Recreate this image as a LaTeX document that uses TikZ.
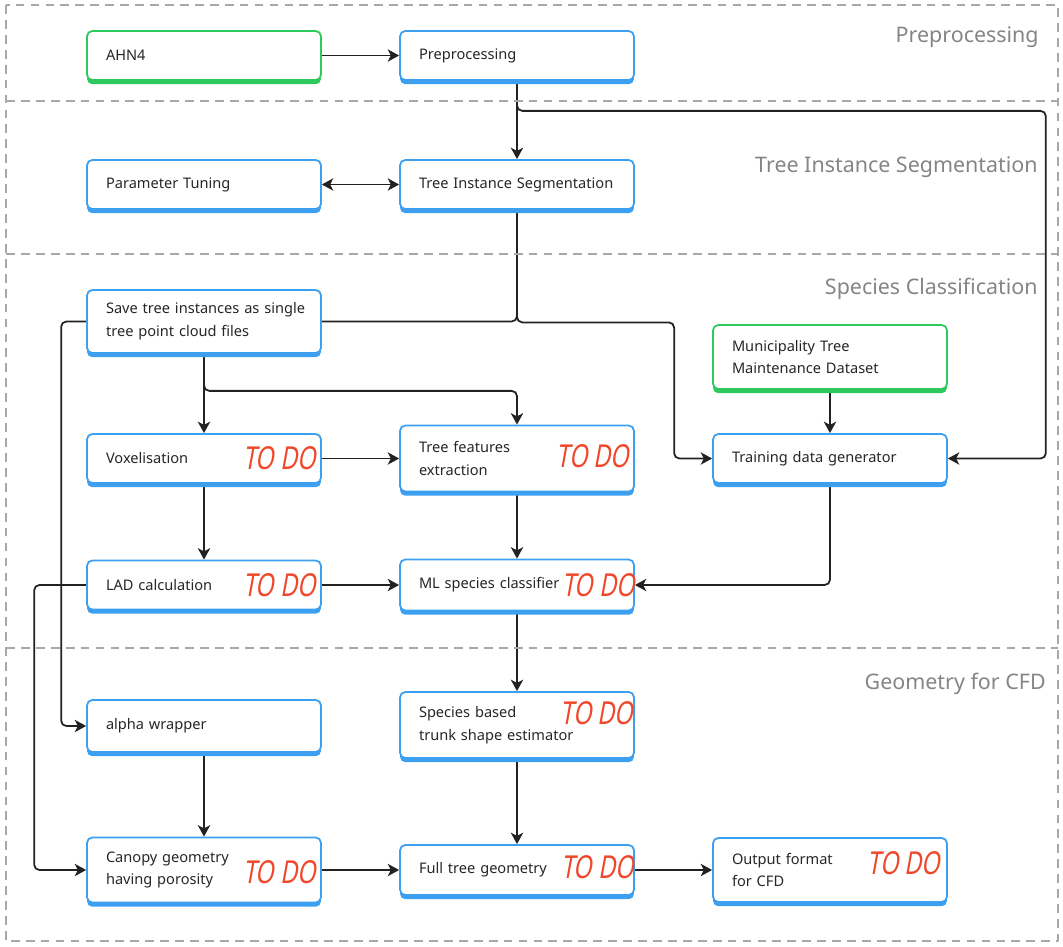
\documentclass[tikz,border=0pt]{standalone}
\usepackage{fontspec}
\setmainfont{Noto Sans}
\newfontfamily\todofont[FakeStretch=0.75,FakeSlant=0.18]{Noto Sans}
\usetikzlibrary{arrows.meta,positioning,shadows}
\pgfdeclarelayer{background}
\pgfsetlayers{background,main}
\definecolor{boxblue}{HTML}{3C9FF0}
\definecolor{boxgreen}{HTML}{2EC95C}
\definecolor{todored}{HTML}{F0472B}
\definecolor{lanegray}{HTML}{A8A8A8}
\definecolor{titlegray}{HTML}{858585}
\definecolor{linedark}{HTML}{222222}

\begin{document}
\begin{tikzpicture}[x=0.02cm, y=-0.02cm, line join=round,
  box/.style={draw=#1, line width=1pt, fill=white, rounded corners=3pt,
    drop shadow={shadow xshift=0pt, shadow yshift=-2.4pt, fill=#1, opacity=1},
    minimum width=4.68cm, text width=3.92cm, inner xsep=0.38cm, align=left,
    font=\fontsize{8.3}{13}\selectfont, text=black!85},
  box/.default=boxblue,
  conn/.style={draw=linedark, line width=1pt, rounded corners=3pt},
  arr/.style={conn, -{Stealth[length=6.5pt, width=7pt, inset=1.8pt]}},
  arrboth/.style={conn, {Stealth[length=6.5pt, width=7pt, inset=1.8pt]}-{Stealth[length=6.5pt, width=7pt, inset=1.8pt]}},
  todo/.style={font=\todofont\fontsize{18}{18}\selectfont, text=todored, inner sep=0pt, anchor=east},
  lane/.style={font=\fontsize{12.2}{14}\selectfont, text=titlegray, anchor=east, inner sep=0pt},
  sep/.style={draw=lanegray, line width=0.9pt, dash pattern=on 5pt off 3.5pt}]
\useasboundingbox (0,0) rectangle (1063,947);

\draw[sep] (6,5) rectangle (1058,941);
\draw[sep] (6,101) -- (1058,101);
\draw[sep] (6,254) -- (1058,254);
\draw[sep] (6,648) -- (1058,648);
\node[lane] (lpre) at (1039,37) {Preprocessing};
\node[lane] (lseg) at (1038,167) {Tree Instance Segmentation};
\node[lane] (lcls) at (1038,289) {Species Classification};
\node[lane] (lcfd) at (1046,684) {Geometry for CFD};

\node[box=boxgreen, minimum height=0.98cm] (ahn) at (204,55.5) {AHN4};
\node[box, minimum height=0.98cm] (prep) at (517,55.5) {Preprocessing};
\node[box, minimum height=0.98cm] (tune) at (204,184.5) {Parameter Tuning};
\node[box, minimum height=0.98cm] (seg) at (517,184.5) {Tree Instance Segmentation};
\node[box, minimum height=1.26cm] (save) at (204,321.5) {\mbox{Save tree instances as single}\\tree point cloud files};
\node[box=boxgreen, minimum height=1.28cm] (muni) at (830,357) {Municipality Tree\\Maintenance Dataset};
\node[box, minimum height=0.98cm] (voxel) at (204,458.5) {Voxelisation};
\node[box, minimum height=1.32cm] (feat) at (517,458.5) {Tree features\\extraction};
\node[box, minimum height=0.98cm] (train) at (830,458.5) {Training data generator};
\node[box, minimum height=0.98cm] (lad) at (204,585) {LAD calculation};
\node[box, minimum height=1.02cm] (ml) at (517,585) {ML species classifier};
\node[box, minimum height=1.04cm] (alpha) at (204,726) {alpha wrapper};
\node[box, minimum height=1.32cm] (trunk) at (517,725) {Species based\\trunk shape estimator};
\node[box, minimum height=1.30cm] (canopy) at (204,870) {Canopy geometry\\having porosity};
\node[box, minimum height=1.00cm] (full) at (517,870) {Full tree geometry};
\node[box, minimum height=1.28cm] (out) at (830,870) {Output format\\for CFD};

\node[todo] (tvox) at ([xshift=-0.1cm]voxel.east) {TO DO};
\node[todo] (tfeat) at ([xshift=-0.1cm, yshift=0.04cm]feat.east) {TO DO};
\node[todo] (tlad) at ([xshift=-0.1cm]lad.east) {TO DO};
\node[todo] (tml) at ([xshift=0.02cm]ml.east) {TO DO};
\node[todo] (ttrunk) at ([xshift=-0.02cm, yshift=0.24cm]trunk.east) {TO DO};
\node[todo] (tcan) at ([xshift=-0.1cm, yshift=-0.04cm]canopy.east) {TO DO};
\node[todo] (tfull) at ([xshift=0cm, yshift=0.06cm]full.east) {TO DO};
\node[todo] (tout) at ([xshift=-0.14cm, yshift=0.14cm]out.east) {TO DO};

\begin{pgfonlayer}{background}
\draw[arr] (ahn) -- (prep);
\draw[arr] (prep) -- (seg);
\draw[arr] (prep.south) -- ++(0,30) -| ([xshift=1.96cm]train.east) -- (train.east);
\draw[arrboth] (tune) -- (seg);
\draw[conn] (seg.south) |- (save.east);
\draw[arr] (seg.south) -- ++(0,112.5) -| ([xshift=-0.76cm]train.west) -- (train.west);
\draw[arr] (save.west) -- ++(-25,0) |- (alpha.west);
\draw[arr] (save) -- (voxel);
\draw[arr] (save.south) -- ++(0,37) -| (feat.north);
\draw[arr] (muni) -- (train);
\draw[arr] (voxel) -- (feat);
\draw[arr] (voxel) -- (lad);
\draw[arr] (feat) -- (ml);
\draw[arr] (lad) -- (ml);
\draw[arr] (train.south) |- (ml.east);
\draw[arr] (lad.west) -- ++(-52,0) |- (canopy.west);
\draw[arr] (ml) -- (trunk);
\draw[arr] (alpha) -- (canopy);
\draw[arr] (trunk) -- (full);
\draw[arr] (canopy) -- (full);
\draw[arr] (full) -- (out);
\end{pgfonlayer}
\end{tikzpicture}
\end{document}
